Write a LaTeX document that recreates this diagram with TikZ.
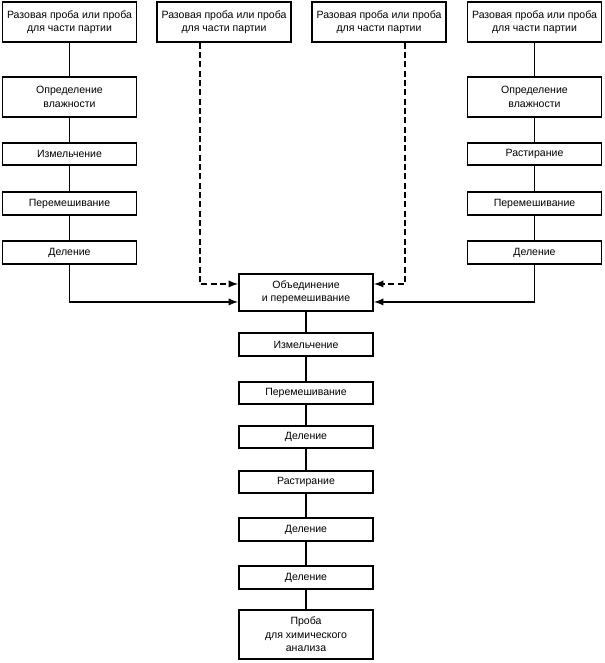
\documentclass[tikz,border=0pt]{standalone}
\usepackage{fontspec}
\setmainfont{Liberation Sans}
\usetikzlibrary{arrows}

\begin{document}
\begin{tikzpicture}[x=0.75pt, y=-0.75pt,
    box/.style={draw, line width=1.4pt, minimum width=100.5pt, minimum height=16.8pt,
      align=center, inner sep=1pt, font=\fontsize{7.9pt}{10pt}\selectfont},
    tall/.style={box, minimum height=29.5pt},
    link/.style={line width=1.4pt},
    feed/.style={line width=1.4pt, -latex},
    partial/.style={feed, dash pattern=on 4.5pt off 2.5pt}]
    \useasboundingbox (0,0) rectangle (605,663);
    % Samples
    \node[tall] (s1) at (69.5,22) {Разовая проба или проба\\для части партии};
    \node[tall] (s2) at (224,22) {Разовая проба или проба\\для части партии};
    \node[tall] (s3) at (379,22) {Разовая проба или проба\\для части партии};
    \node[tall] (s4) at (534.5,22) {Разовая проба или проба\\для части партии};
    % Left branch
    \node[tall] (mL) at (69.5,97) {Определение\\влажности};
    \node[box] (gL) at (69.5,154) {Измельчение};
    \node[box] (xL) at (69.5,203.5) {Перемешивание};
    \node[box] (dL) at (69.5,252.5) {Деление};
    % Right branch
    \node[tall] (mR) at (534.5,97) {Определение\\влажности};
    \node[box] (rR) at (534.5,154) {Растирание};
    \node[box] (xR) at (534.5,203.5) {Перемешивание};
    \node[box] (dR) at (534.5,252.5) {Деление};
    % Main column
    \node[box, minimum height=27.5pt] (mix) at (306,292.5) {Объединение\\и перемешивание};
    \node[box] (c1) at (306,344.5) {Измельчение};
    \node[box] (c2) at (306,393) {Перемешивание};
    \node[box] (c3) at (306,437) {Деление};
    \node[box] (c4) at (306,482) {Растирание};
    \node[box] (c5) at (306,529.5) {Деление};
    \node[box] (c6) at (306,577.5) {Деление};
    \node[box, minimum height=36.5pt] (out) at (306,634.5) {Проба\\для химического\\анализа};
    % Links
    \foreach \a/\b in {s1/mL,mL/gL,gL/xL,xL/dL,s4/mR,mR/rR,rR/xR,xR/dR,
                       mix/c1,c1/c2,c2/c3,c3/c4,c4/c5,c5/c6,c6/out}
      \draw[link] (\a) -- (\b);
    % Feeds into the mixing step
    \draw[feed] (dL) |- ([yshift=-7.1pt]mix.west);
    \draw[feed] (dR) |- ([yshift=-7.1pt]mix.east);
    \draw[partial] ([xshift=-18pt]s2.south) |- ([yshift=6.4pt]mix.west);
    \draw[partial] ([xshift=19.5pt]s3.south) |- ([yshift=6.4pt]mix.east);
\end{tikzpicture}
\end{document}
